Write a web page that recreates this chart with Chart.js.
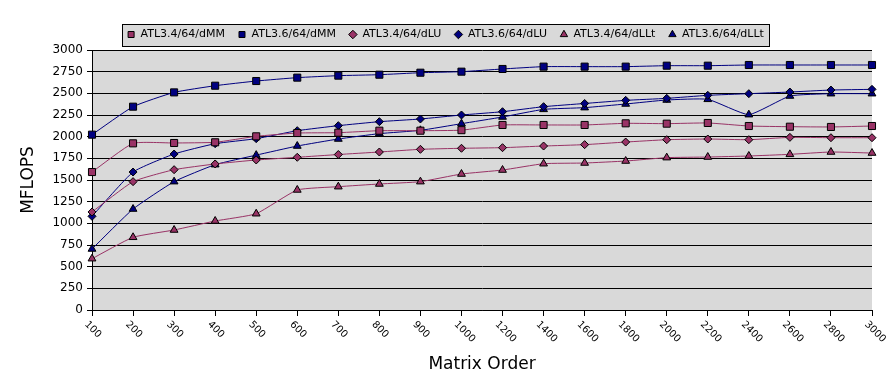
<!DOCTYPE html>
<html>
<head>
<meta charset="utf-8">
<script src="https://cdn.jsdelivr.net/npm/chart.js@4/dist/chart.umd.min.js"></script>
<style>
  html, body { margin: 0; padding: 0; background: #fff; }
  #wrap { width: 891px; height: 386px; }
</style>
</head>
<body>
<div id="wrap"><canvas id="mflopsChart" width="891" height="386"></canvas></div>
<script>
const matrixOrders = ['100', '200', '300', '400', '500', '600', '700', '800', '900', '1000',
                      '1200', '1400', '1600', '1800', '2000', '2200', '2400', '2600', '2800', '3000'];

const atl34dMM  = [1592, 1923, 1927, 1935, 2004, 2042, 2046, 2069, 2069, 2075, 2135, 2135, 2135, 2154, 2150, 2158, 2123, 2115, 2112, 2123];
const atl36dMM  = [2023, 2346, 2511, 2588, 2642, 2681, 2704, 2715, 2738, 2750, 2781, 2808, 2808, 2808, 2819, 2819, 2827, 2827, 2827, 2827];
const atl34dLU  = [1131, 1481, 1619, 1685, 1731, 1762, 1794, 1823, 1854, 1866, 1873, 1892, 1908, 1938, 1965, 1973, 1965, 1992, 1988, 1988];
const atl36dLU  = [1081, 1592, 1800, 1919, 1977, 2069, 2127, 2173, 2204, 2250, 2288, 2346, 2383, 2419, 2442, 2477, 2496, 2515, 2538, 2546];
const atl34dLLt = [592, 839, 923, 1027, 1111, 1385, 1423, 1454, 1481, 1569, 1615, 1688, 1696, 1719, 1758, 1765, 1777, 1796, 1823, 1811];
const atl36dLLt = [704, 1165, 1481, 1677, 1787, 1892, 1973, 2035, 2073, 2150, 2227, 2315, 2335, 2377, 2423, 2431, 2254, 2469, 2496, 2496];

const yTicks = [0, 250, 500, 750, 1000, 1250, 1500, 1750, 2000, 2250, 2500, 2750, 3000];

const MAROON = '#993366';
const NAVY = '#000080';
const GREY = '#d9d9d9';
const FONT = '"DejaVu Sans", sans-serif';

Chart.defaults.font.family = FONT;
Chart.defaults.color = '#000';

function series(label, data, color, style, radius) {
    return {
        label: label,
        data: data,
        borderColor: color,
        backgroundColor: color,
        borderWidth: 1,
        pointStyle: style,
        pointRadius: radius,
        pointBackgroundColor: color,
        pointBorderColor: '#000',
        pointBorderWidth: 1,
        tension: 0.15
    };
}

// grey plot area + framed legend, and the slanted x labels
const chartDecor = {
    id: 'chartDecor',
    beforeDraw(chart) {
        const ctx = chart.ctx;
        const a = chart.chartArea;
        ctx.save();
        ctx.fillStyle = GREY;
        ctx.fillRect(a.left, a.top, a.right - a.left, a.bottom - a.top);

        const boxes = chart.legend.legendHitBoxes;
        if (boxes && boxes.length) {
            const left = Math.round(Math.min(...boxes.map(b => b.left)) - 5);
            const right = Math.round(Math.max(...boxes.map(b => b.left + b.width)) + 5);
            const top = Math.round(boxes[0].top - 5);
            const bottom = Math.round(boxes[0].top + boxes[0].height + 6);
            ctx.fillStyle = GREY;
            ctx.fillRect(left, top, right - left, bottom - top);
            ctx.strokeStyle = '#000';
            ctx.lineWidth = 1;
            ctx.strokeRect(left + 0.5, top + 0.5, right - left, bottom - top);
        }
        ctx.restore();
    },
    afterDraw(chart) {
        const ctx = chart.ctx;
        const scale = chart.scales.x;
        ctx.save();
        ctx.font = '10px ' + FONT;
        ctx.fillStyle = '#000';
        ctx.textAlign = 'left';
        ctx.textBaseline = 'middle';
        matrixOrders.forEach((lbl, i) => {
            const x = scale.getPixelForTick(i);
            ctx.save();
            ctx.translate(x - 6, scale.top + 13);
            ctx.rotate(Math.PI / 4);
            ctx.fillText(lbl, 0, 0);
            ctx.restore();
        });
        ctx.restore();
    }
};

const ctx = document.getElementById('mflopsChart').getContext('2d');
new Chart(ctx, {
    type: 'line',
    data: {
        labels: matrixOrders,
        datasets: [
            series('ATL3.4/64/dMM', atl34dMM, MAROON, 'rect', 5),
            series('ATL3.6/64/dMM', atl36dMM, NAVY, 'rect', 5),
            series('ATL3.4/64/dLU', atl34dLU, MAROON, 'rectRot', 4),
            series('ATL3.6/64/dLU', atl36dLU, NAVY, 'rectRot', 4),
            series('ATL3.4/64/dLLt', atl34dLLt, MAROON, 'triangle', 4.5),
            series('ATL3.6/64/dLLt', atl36dLLt, NAVY, 'triangle', 4.5)
        ]
    },
    plugins: [chartDecor],
    options: {
        responsive: false,
        animation: false,
        layout: { padding: { top: 8, left: 0, right: 0, bottom: 0 } },
        plugins: {
            tooltip: { enabled: false },
            legend: {
                position: 'top',
                labels: {
                    usePointStyle: true,
                    boxWidth: 8,
                    boxHeight: 6,
                    padding: 13,
                    color: '#000',
                    font: { size: 11 }
                }
            }
        },
        scales: {
            x: {
                offset: false,
                ticks: { display: false },
                grid: { color: '#000', drawOnChartArea: false, tickLength: 6 },
                border: { color: '#000' },
                title: { display: true, text: 'Matrix Order', color: '#000', font: { size: 17 }, padding: { bottom: 11 } },
                afterFit(scale) {
                    scale.height = 76;
                    scale.paddingRight = 19;
                }
            },
            y: {
                min: 0,
                max: 3000,
                afterBuildTicks(scale) {
                    scale.ticks = yTicks.map(v => ({ value: v }));
                },
                ticks: {
                    padding: 4,
                    color: '#000',
                    font: { size: 12 },
                    callback: v => String(v)
                },
                grid: { color: '#000', tickLength: 5 },
                border: { color: '#000' },
                title: { display: true, text: 'MFLOPS', color: '#000', font: { size: 17 }, padding: { top: 18 } },
                afterFit(scale) {
                    scale.width = 92;
                    scale.paddingTop = 50;
                }
            }
        }
    }
});
</script>
</body>
</html>
